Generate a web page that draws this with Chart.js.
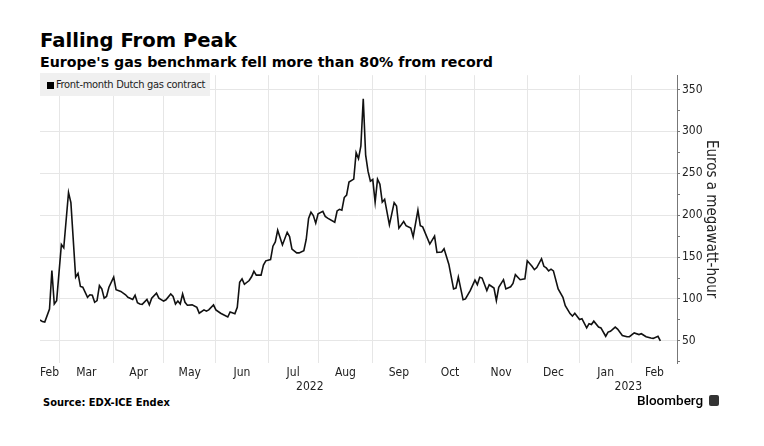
<!DOCTYPE html>
<html>
<head>
<meta charset="utf-8">
<script src="https://cdn.jsdelivr.net/npm/chart.js@4.4.0/dist/chart.umd.min.js"></script>
<style>
  body { margin: 0; background: #fff; width: 764px; height: 446px; overflow: hidden; position: relative; font-family: "DejaVu Sans", sans-serif; }
  .title { position: absolute; left: 40px; top: 31px; font-size: 19.6px; line-height: 20px; font-weight: bold; color: #000; }
  .subtitle { position: absolute; left: 40px; top: 55px; font-size: 14.2px; line-height: 14px; font-weight: bold; color: #000; }
  #wrap { position: absolute; left: 0; top: 66px; width: 764px; height: 330px; }
  .legend { position: absolute; left: 40px; top: 73px; width: 170px; height: 23px; background: #f0f0f0; font-family: "DejaVu Sans Condensed", sans-serif; font-size: 11px; letter-spacing: -0.3px; color: #222; }
  .legend .sw { position: absolute; left: 7px; top: 9px; width: 7px; height: 7px; background: #000; }
  .legend .txt { position: absolute; left: 16px; top: 5px; line-height: 13px; white-space: nowrap; }
  .source { position: absolute; left: 43px; top: 396px; font-family: "DejaVu Sans Condensed", sans-serif; font-weight: bold; font-size: 11px; color: #000; }
  .brand { position: absolute; left: 637px; top: 392px; font-family: Roboto, sans-serif; font-weight: 500; font-size: 13.5px; color: #000; }
  .logo { position: absolute; left: 709px; top: 395px; width: 10px; height: 11px; background: #333; border-radius: 2px; }
</style>
</head>
<body>
<div class="title">Falling From Peak</div>
<div class="subtitle">Europe's gas benchmark fell more than 80% from record</div>
<div id="wrap"><canvas id="chart"></canvas></div>
<div class="legend"><span class="sw"></span><span class="txt">Front-month Dutch gas contract</span></div>
<div class="source">Source: EDX-ICE Endex</div>
<div class="brand">Bloomberg</div>
<div class="logo"></div>
<script>
// trading days, counted from the first date shown
var startDate = '2022-02-17';
var endDate = '2023-02-28';

var dates = [
  '2022-02-17','2022-02-18','2022-02-21','2022-02-23','2022-02-24','2022-02-25','2022-02-28',
  '2022-03-02','2022-03-03','2022-03-07','2022-03-08','2022-03-10','2022-03-11','2022-03-14',
  '2022-03-15','2022-03-17','2022-03-18','2022-03-21','2022-03-22','2022-03-23','2022-03-24',
  '2022-03-25','2022-03-28','2022-03-29','2022-03-30',
  '2022-04-01','2022-04-04','2022-04-06','2022-04-08','2022-04-11','2022-04-13','2022-04-14',
  '2022-04-15','2022-04-18','2022-04-19','2022-04-21','2022-04-22','2022-04-25','2022-04-27',
  '2022-04-28',
  '2022-05-02','2022-05-03','2022-05-05','2022-05-06','2022-05-09','2022-05-10','2022-05-11',
  '2022-05-12','2022-05-13','2022-05-16','2022-05-18','2022-05-20','2022-05-23','2022-05-25',
  '2022-05-26','2022-05-27','2022-05-31',
  '2022-06-01','2022-06-03','2022-06-06','2022-06-08','2022-06-09','2022-06-13','2022-06-14',
  '2022-06-15','2022-06-16','2022-06-17','2022-06-21','2022-06-22','2022-06-23','2022-06-24',
  '2022-06-28','2022-06-29','2022-06-30',
  '2022-07-04','2022-07-05','2022-07-06','2022-07-07','2022-07-11','2022-07-13','2022-07-14',
  '2022-07-15','2022-07-19','2022-07-20','2022-07-22','2022-07-25','2022-07-26','2022-07-27',
  '2022-07-28','2022-07-29',
  '2022-08-01','2022-08-03','2022-08-04','2022-08-05','2022-08-10','2022-08-11','2022-08-12',
  '2022-08-15','2022-08-16','2022-08-17','2022-08-18','2022-08-22','2022-08-23','2022-08-24',
  '2022-08-25','2022-08-26','2022-08-29','2022-08-30','2022-08-31',
  '2022-09-01','2022-09-02','2022-09-05','2022-09-06','2022-09-07','2022-09-08','2022-09-12',
  '2022-09-13','2022-09-14','2022-09-15','2022-09-16','2022-09-20','2022-09-21','2022-09-23',
  '2022-09-26','2022-09-28','2022-09-29','2022-09-30',
  '2022-10-05','2022-10-07','2022-10-10','2022-10-12','2022-10-13','2022-10-17','2022-10-19',
  '2022-10-20','2022-10-21','2022-10-25','2022-10-26','2022-10-28',
  '2022-11-01','2022-11-02','2022-11-03','2022-11-04','2022-11-08','2022-11-09','2022-11-11',
  '2022-11-14','2022-11-15','2022-11-17','2022-11-18','2022-11-22','2022-11-23','2022-11-24',
  '2022-11-28','2022-11-30',
  '2022-12-01','2022-12-05','2022-12-06','2022-12-07','2022-12-09','2022-12-12','2022-12-13',
  '2022-12-14','2022-12-15','2022-12-16','2022-12-20','2022-12-22','2022-12-23','2022-12-27',
  '2022-12-28','2022-12-29',
  '2023-01-02','2023-01-03','2023-01-05','2023-01-06','2023-01-09','2023-01-10','2023-01-12',
  '2023-01-13','2023-01-17','2023-01-18','2023-01-19','2023-01-23','2023-01-24','2023-01-26',
  '2023-01-30','2023-01-31',
  '2023-02-02','2023-02-06','2023-02-07','2023-02-09','2023-02-13','2023-02-14','2023-02-16',
  '2023-02-17'
];

var prices = [
  75, 73, 72.5, 88, 134, 94, 98,
  165, 161, 227, 215, 126, 130.5, 115,
  114, 102, 105, 104.5, 96, 98, 116,
  112, 101, 103, 114,
  126, 111, 109, 105, 102, 99.5, 104.5,
  95.5, 94, 93.5, 99.5, 93, 101, 107,
  101,
  97.5, 99, 106, 103, 94, 97.5, 94,
  106, 96, 92.5, 93, 90, 83, 87,
  85.5, 87, 93,
  87, 83, 81.5, 78.5, 84.5, 82.5, 90,
  120, 124, 117.5, 122, 126.5, 133, 128.5,
  128.5, 140.5, 145.5,
  147, 163, 168, 182, 164.5, 179.5, 174.5,
  159.5, 155, 155, 157.5, 171, 196, 203.5,
  199.5, 190.5,
  201.5, 204.5, 198.5, 196.5, 191.5, 205, 207,
  206, 221, 224, 239.5, 243, 274.5, 267.5,
  282.5, 339, 272, 252.5, 240.5,
  242.5, 215.5, 243, 237, 215.5, 219, 188.5,
  201.5, 215, 211, 184.5, 192.5, 187.5, 184.5,
  174, 206, 187.5, 186,
  165.5, 175, 155.5, 156, 160, 141.5, 112,
  113, 126, 99, 100, 110,
  122.5, 117, 126, 125, 110, 117, 113,
  98, 114, 123, 112, 114.5, 118.5, 129,
  123, 124,
  145.5, 139, 135, 137.5, 148, 139, 137,
  133.5, 135.5, 133.5, 112, 102, 92, 82.5,
  79.5, 83,
  75.5, 76.5, 65.5, 70.5, 69.5, 73.5, 66.5,
  65.5, 55.5, 60.5, 61.5, 66.5, 64, 56.5,
  55, 55,
  59.5, 57.5, 58.5, 55, 53.5, 53, 55.5,
  50
];

// month boundaries (first day of each month) and their labels
var monthBounds = ['2022-02-01','2022-03-01','2022-04-01','2022-05-01','2022-06-01','2022-07-01',
  '2022-08-01','2022-09-01','2022-10-01','2022-11-01','2022-12-01','2023-01-01','2023-02-01','2023-03-01'];
var monthLabels = ['Feb','Mar','Apr','May','Jun','Jul','Aug','Sep','Oct','Nov','Dec','Jan','Feb'];
var yearBounds = ['2022-01-01','2023-01-01','2024-01-01'];
var yearLabels = ['2022','2023'];

var yMin = 23.6;
var yMax = 367;
var yTicks = [25, 50, 75, 100, 125, 150, 175, 200, 225, 250, 275, 300, 325, 350];

var tickFont = { family: 'DejaVu Sans Condensed', size: 12 };

function tradingDay(d) {
	var t0 = Date.parse(startDate);
	var t = Date.parse(d);
	var n = 0;
	for (var ms = t0; ms < t; ms += 86400000) {
		var wd = new Date(ms).getUTCDay();
		if (wd !== 0 && wd !== 6) {
			n++;
		}
	}
	return n;
}

var xMin = 0;
var xMax = tradingDay(endDate);

var points = [];
for (var i = 0; i < dates.length; i++) {
	points.push({ x: tradingDay(dates[i]), y: prices[i] });
}

// gridlines at month starts, labels centred in the visible part of each month
var gridTicks = [];
var monthTicks = [];
var monthText = {};
for (var m = 0; m < monthLabels.length; m++) {
	var lo = tradingDay(monthBounds[m]);
	var hi = tradingDay(monthBounds[m + 1]);
	if (m > 0) {
		gridTicks.push({ value: lo });
	}
	var mid = (Math.max(lo, xMin) + Math.min(hi, xMax)) / 2;
	monthTicks.push({ value: mid });
	monthText[mid] = monthLabels[m];
}

var yearTicks = [];
var yearText = {};
for (var k = 0; k < yearLabels.length; k++) {
	var ylo = Math.max(tradingDay(yearBounds[k]), xMin);
	var yhi = Math.min(tradingDay(yearBounds[k + 1]), xMax);
	var ymid = (ylo + yhi) / 2;
	yearTicks.push({ value: ymid });
	yearText[ymid] = yearLabels[k];
}

var config = {
	type: 'line',
	data: {
		datasets: [{
			label: 'Front-month Dutch gas contract',
			data: points,
			borderColor: '#111',
			borderWidth: 1.6,
			pointRadius: 0,
			tension: 0,
			fill: false
		}]
	},
	options: {
		responsive: true,
		maintainAspectRatio: false,
		animation: false,
		layout: { padding: { left: 40, right: 40, top: 7, bottom: 0 } },
		plugins: {
			legend: { display: false },
			tooltip: { enabled: false }
		},
		scales: {
			x: {
				type: 'linear',
				position: 'bottom',
				min: xMin,
				max: xMax,
				afterBuildTicks: function(scale) { scale.ticks = gridTicks.slice(); },
				afterFit: function(scale) { scale.height = 0; },
				ticks: { display: false },
				grid: { color: '#e6e6e6', lineWidth: 1, drawTicks: false },
				border: { display: false }
			},
			xm: {
				type: 'linear',
				position: 'bottom',
				min: xMin,
				max: xMax,
				afterBuildTicks: function(scale) { scale.ticks = monthTicks.slice(); },
				afterFit: function(scale) { scale.height = 17; },
				ticks: {
					font: tickFont,
					color: '#222',
					padding: 3,
					maxRotation: 0,
					autoSkip: false,
					callback: function(value) { return monthText[value]; }
				},
				grid: { display: false, drawTicks: false },
				border: { display: false }
			},
			xy: {
				type: 'linear',
				position: 'bottom',
				min: xMin,
				max: xMax,
				afterBuildTicks: function(scale) { scale.ticks = yearTicks.slice(); },
				afterFit: function(scale) { scale.height = 16; },
				ticks: {
					font: tickFont,
					color: '#222',
					padding: 0,
					maxRotation: 0,
					autoSkip: false,
					callback: function(value) { return yearText[value]; }
				},
				grid: { display: false, drawTicks: false },
				border: { display: false }
			},
			y: {
				type: 'linear',
				position: 'right',
				min: yMin,
				max: yMax,
				afterBuildTicks: function(scale) {
					scale.ticks = yTicks.map(function(v) { return { value: v }; });
				},
				afterFit: function(scale) { scale.width = 47; },
				ticks: {
					font: tickFont,
					color: '#222',
					padding: 2,
					autoSkip: false,
					callback: function(value) { return value % 50 === 0 ? value : ''; }
				},
				grid: {
					color: function(ctx) {
						return ctx.tick && ctx.tick.value % 50 === 0 ? '#e6e6e6' : 'rgba(0,0,0,0)';
					},
					tickColor: '#777',
					tickLength: 3
				},
				border: { display: true, color: '#777', width: 1 },
				title: {
					display: true,
					text: 'Euros a megawatt-hour',
					font: { family: 'DejaVu Sans Condensed', size: 15 },
					color: '#222',
					padding: { top: 4, bottom: 0 }
				}
			}
		}
	}
};

var ctx = document.getElementById('chart').getContext('2d');
window.gasChart = new Chart(ctx, config);
</script>
</body>
</html>
